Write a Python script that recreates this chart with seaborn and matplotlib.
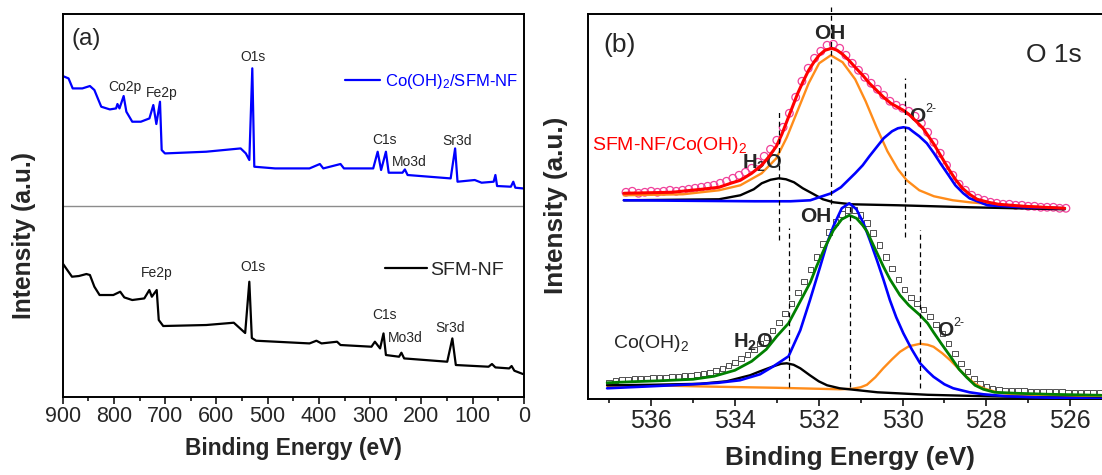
import numpy as np
import pandas as pd
import seaborn as sns
import matplotlib.pyplot as plt
from matplotlib.lines import Line2D
from matplotlib.ticker import MultipleLocator

# ---------------- survey spectra (panel a) ----------------
be_cooh = [900, 888.6, 880.5, 861.7, 846.9, 838.2, 831.5, 824.8, 808.0, 795.9, 793.2, 789.2,
           781.1, 775.8, 764.3, 747.5, 730.8, 723.2, 717.3, 710.2, 706.9, 700.5, 620.0, 552.8,
           542.7, 535.9, 530.1, 526.2, 485.6, 418.5, 398.3, 391.6, 358.0, 351.3, 294.2, 285.5,
           278.8, 269.4, 264.0, 237.1, 232.4, 227.1, 143.1, 134.4, 129.7, 96.1, 82.7, 59.2,
           55.8, 52.5, 25.6, 20.9, 16.9, 2.1]
int_cooh = [320.7, 318.3, 308.3, 308.3, 310.7, 306.7, 298.3, 290, 287.3, 288.3, 292.7, 288.3,
            300.7, 285, 275, 275, 278.3, 291.7, 272.7, 295, 246.7, 243.3, 245, 248.3,
            243.3, 236.7, 328.4, 230, 228.3, 228.3, 232.7, 228.3, 232.7, 228.3, 228.3, 245,
            226.7, 245, 224, 224, 227.3, 221.7, 218.3, 248.3, 215, 216.7, 214, 215,
            221.7, 210.7, 210, 215, 209, 208.3]

be_sfm = [900, 891.9, 881.9, 868.4, 853.7, 846.9, 838.2, 828.1, 801.3, 787.8, 779.8, 764.3,
          740.8, 731.0, 726.1, 716.6, 712.6, 703.9, 620.0, 566.2, 544.0, 535.9, 531.0, 522.6,
          418.5, 405.0, 395.0, 364.7, 358.0, 297.6, 290.9, 280.8, 274.1, 269.4, 243.8, 239.2,
          233.8, 149.8, 139.8, 133.0, 69.2, 62.5, 55.8, 28.9, 24.2, 18.8, 2.1]
int_sfm = [133.3, 127.3, 120, 120.7, 122.7, 121.7, 110, 101.7, 101.7, 105, 99.3, 96.7,
           98.3, 106.7, 100, 106.7, 76.7, 70.7, 71.7, 74, 63.7, 115, 58.7, 56,
           53.3, 56, 53.3, 55, 51.7, 50, 55, 48.3, 63.3, 41.7, 40, 44,
           38.3, 35, 58.3, 31.7, 30, 32.7, 29.3, 28.3, 30.7, 26, 22.7]

labels_cooh = ["Co2p", "Fe2p", "O1s", "C1s", "Mo3d", "Sr3d"]
labels_sfm = ["Fe2p", "O1s", "C1s", "Mo3d", "Sr3d"]

# ---------------- O 1s spectra (panel b) ----------------
# SFM-NF/Co(OH)2 : raw data
be_top_raw = [536.60, 536.45, 536.30, 536.15, 536.00, 535.85, 535.70, 535.55, 535.40, 535.25,
              535.10, 534.95, 534.80, 534.65, 534.50, 534.35, 534.20, 534.05, 533.90, 533.75,
              533.60, 533.45, 533.30, 533.15, 533.00, 532.85, 532.70, 532.55, 532.40, 532.25,
              532.10, 531.95, 531.80, 531.65, 531.50, 531.35, 531.20, 531.05, 530.90, 530.75,
              530.60, 530.45, 530.30, 530.15, 530.00, 529.85, 529.70, 529.55, 529.40, 529.25,
              529.10, 528.95, 528.80, 528.65, 528.50, 528.35, 528.20, 528.05, 527.90, 527.75,
              527.60, 527.45, 527.30, 527.15, 527.00, 526.85, 526.70, 526.55, 526.40, 526.25,
              526.10]
int_top_raw = [207, 208, 206, 207, 208, 207, 208, 209, 208, 209,
               210, 211, 212, 213, 214, 216, 218, 221, 224, 227,
               231, 237, 243, 250, 259, 272, 286, 302, 318, 331,
               341, 348, 354, 355, 351, 344, 336, 329, 322, 316,
               310, 304, 298, 294, 291, 288, 283, 276, 267, 257,
               246, 234, 224, 215, 209, 204, 201, 199, 197, 196,
               195, 195, 194, 194, 193, 193, 192, 192, 192, 191,
               191]

be_top_fit = [536.65, 535.50, 534.80, 534.38, 534.10, 533.87, 533.60, 533.36, 533.20, 533.01,
              532.88, 532.76, 532.63, 532.50, 532.37, 532.24, 532.10, 531.99, 531.85, 531.69,
              531.56, 531.43, 531.28, 531.13, 530.95, 530.79, 530.62, 530.45, 530.28, 530.11,
              529.98, 529.85, 529.70, 529.51, 529.38, 529.25, 529.08, 528.91, 528.74, 528.57,
              528.40, 528.22, 527.95, 527.71, 527.11, 526.13]
int_top_fit = [206, 207, 210, 212, 216, 219, 226, 234, 242, 253,
               265, 278, 292, 306, 318, 329, 338, 344, 349, 351,
               349, 345, 339, 332, 324, 316, 309, 302, 296, 292,
               289, 285, 279, 271, 263, 255, 243, 231, 220, 211,
               205, 200, 197, 195, 193, 191]

be_top_oh = [536.65, 535.24, 534.38, 533.87, 533.36, 533.01, 532.76, 532.50, 532.24, 531.99,
             531.71, 531.43, 531.13, 530.88, 530.62, 530.36, 530.11, 529.90, 529.60, 529.25,
             528.80, 528.40, 527.54, 526.13]
int_top_oh = [204, 205, 209, 214, 226, 241, 262, 289, 316, 336,
              344, 337, 320, 298, 272, 248, 230, 219, 209, 203,
              199, 197, 194, 191]

be_top_o2 = [536.65, 533.53, 532.67, 532.20, 531.99, 531.70, 531.47, 531.13, 530.95, 530.79,
             530.62, 530.45, 530.25, 530.11, 529.98, 529.85, 529.76, 529.60, 529.42, 529.25,
             529.08, 528.90, 528.74, 528.55, 528.40, 527.97, 527.11, 526.13]
int_top_o2 = [199, 198, 198, 199, 202, 206, 212, 226, 234, 243,
              252, 261, 268, 271, 272, 271, 268, 263, 256, 246,
              235, 224, 214, 206, 201, 194, 192, 191]

be_top_h2o = [536.65, 534.38, 533.87, 533.55, 533.36, 533.15, 532.95, 532.78, 532.59, 532.38,
              532.16, 531.90, 531.65, 531.22, 530.11, 528.40, 526.13]
int_top_h2o = [199, 200, 204, 210, 216, 219.5, 221, 220, 217, 211,
               206, 200, 197, 195, 194, 192, 190]

# Co(OH)2 : raw data
be_bot_raw = [537.00, 536.85, 536.70, 536.55, 536.40, 536.25, 536.10, 535.95, 535.80, 535.65,
              535.50, 535.35, 535.20, 535.05, 534.90, 534.75, 534.60, 534.45, 534.30, 534.15,
              534.00, 533.85, 533.70, 533.55, 533.40, 533.25, 533.10, 532.95, 532.80, 532.65,
              532.50, 532.35, 532.20, 532.05, 531.90, 531.75, 531.60, 531.45, 531.30, 531.15,
              531.00, 530.85, 530.70, 530.55, 530.40, 530.25, 530.10, 529.95, 529.80, 529.65,
              529.50, 529.35, 529.20, 529.05, 528.90, 528.75, 528.60, 528.45, 528.30, 528.15,
              528.00, 527.85, 527.70, 527.55, 527.40, 527.25, 527.10, 526.95, 526.80, 526.65,
              526.50, 526.35, 526.20, 526.05, 525.90, 525.75, 525.60, 525.45, 525.30]
int_bot_raw = [17, 19, 20, 20, 21, 21, 21, 22, 22, 22,
               23, 23, 24, 24, 25, 26, 27, 29, 31, 34,
               37, 41, 45, 50, 56, 62, 69, 77, 86, 96,
               107, 118, 130, 142, 155, 167, 177, 185, 189, 189,
               184, 176, 166, 154, 142, 131, 120, 110, 102, 96,
               90, 83, 75, 66, 56, 46, 36, 28, 21, 16,
               13, 11, 10, 9, 9, 8.5, 8.5, 8, 8, 8,
               7.5, 7.5, 7.5, 7, 7, 7, 7, 7, 7]

be_bot_fit = [537.05, 536.5, 535.8, 535.0, 534.5, 534.0, 533.6, 533.25, 533.0, 532.72,
              532.44, 532.2, 532.05, 531.85, 531.65, 531.45, 531.27, 531.1, 530.95, 530.85,
              530.65, 530.46, 530.3, 530.06, 529.85, 529.58, 529.4, 529.26, 529.08, 528.86,
              528.65, 528.47, 528.27, 528.07, 527.8, 527.27, 526.5, 525.25]
int_bot_fit = [16.5, 17.5, 18.5, 20, 23, 29, 38, 50, 63, 76,
               98, 117, 133, 152, 169, 180, 184, 181, 174, 168,
               150, 133, 120, 104, 94, 84, 76, 67, 56, 43,
               30, 22, 14, 10, 7, 6, 5, 4]

be_bot_oh = [537.05, 536.0, 535.0, 534.4, 533.88, 533.4, 533.08, 532.72, 532.44, 532.21,
             531.97, 531.8, 531.65, 531.45, 531.27, 531.1, 530.93, 530.77, 530.61, 530.45,
             530.3, 530.15, 529.98, 529.78, 529.58, 529.4, 529.26, 529.0, 528.79, 528.4,
             528.07, 527.5, 526.88, 525.25]
int_bot_oh = [11, 13, 15, 16.5, 19, 25, 33, 43, 69, 99,
              132, 156, 173, 191, 196, 190, 176, 158, 139, 119,
              99, 82, 66, 50, 36, 28, 22.5, 15, 11, 7,
              5, 3, 2, 0.5]

be_bot_h2o = [537.05, 536.0, 534.83, 534.2, 533.64, 533.4, 533.08, 532.9, 532.76, 532.6,
              532.44, 532.21, 532.0, 531.8, 531.5, 531.27, 530.6, 529.4, 528.0, 525.25]
int_bot_h2o = [14, 14.5, 15.5, 18, 24, 28, 33, 35.5, 36, 34.5,
               31, 24, 18, 14, 11, 10, 7, 4.5, 3, 1]

be_bot_o2 = [537.05, 535.5, 534.51, 533.0, 531.49, 531.2, 531.0, 530.85, 530.65, 530.46,
             530.25, 530.06, 529.85, 529.58, 529.4, 529.26, 529.05, 528.86, 528.65, 528.47,
             528.27, 528.07, 527.7, 527.27, 526.5, 525.25]
int_bot_o2 = [13.5, 13.5, 12.6, 11.5, 10, 10.5, 12, 14.5, 22, 31,
              40, 47.5, 53, 55.5, 54.5, 52.5, 46, 39, 30, 22.5,
              15.5, 11, 6.5, 4.5, 3, 2]

# component centres (eV) for the dashed guide lines
centers_top = [532.95, 531.71, 529.95]
centers_bot = [532.72, 531.25, 529.58]

# ---------------- style ----------------
sns.set_style("ticks")
plt.rcParams['font.family'] = ['Liberation Sans', 'DejaVu Sans']
plt.rcParams['mathtext.fontset'] = 'custom'
plt.rcParams['mathtext.rm'] = 'Liberation Sans'
plt.rcParams['mathtext.it'] = 'Liberation Sans:italic'
plt.rcParams['mathtext.bf'] = 'Liberation Sans:bold'
plt.rcParams['mathtext.default'] = 'regular'

fig = plt.figure(figsize=(11.02, 4.75), dpi=100)
ax1 = fig.add_axes([0.0569, 0.1648, 0.4186, 0.8057])
ax2 = fig.add_axes([0.5338, 0.1594, 0.4753, 0.8112])

# ---------------- panel (a) ----------------
sns.lineplot(x=be_cooh, y=int_cooh, ax=ax1, color='#0000FF', lw=1.6, sort=False, estimator=None)
sns.lineplot(x=be_sfm, y=int_sfm, ax=ax1, color='black', lw=1.6, sort=False, estimator=None)
ax1.axhline(191, color='#8c8c8c', lw=1)

ax1.set_xlim(900, 0)
ax1.set_ylim(0, 382.7)
ax1.set_yticks([])
ax1.xaxis.set_major_locator(MultipleLocator(100))
ax1.xaxis.set_minor_locator(MultipleLocator(50))
ax1.tick_params(axis='x', which='major', direction='out', length=5, width=1.3,
                labelsize=15.5, pad=2, bottom=True)
ax1.tick_params(axis='x', which='minor', direction='out', length=3, width=1.3, bottom=True)
for s in ax1.spines.values():
    s.set_linewidth(1.4)
    s.set_color('black')

ax1.set_xlabel("Binding Energy (eV)", fontsize=16.4, fontweight='bold', va='center')
ax1.xaxis.set_label_coords(0.5, -0.134)
ax1.set_ylabel("Intensity (a.u.)", fontsize=17.7, fontweight='bold', va='center')
ax1.yaxis.set_label_coords(-0.084, 0.4225)

ax1.text(855, 358, "(a)", fontsize=17.5, ha='center', va='center')
pos_cooh = [(777.8, 310), (707.3, 304), (527.9, 339.3), (272.7, 256.7), (223.7, 235), (129.7, 256)]
for lab, (x, y) in zip(labels_cooh, pos_cooh):
    ax1.text(x, y, lab, fontsize=10, ha='center', va='center')
pos_sfm = [(717.3, 124), (527.9, 129.3), (272.1, 81.7), (231.8, 58.3), (144.5, 69)]
for lab, (x, y) in zip(labels_sfm, pos_sfm):
    ax1.text(x, y, lab, fontsize=10, ha='center', va='center')

leg1 = ax1.legend(handles=[Line2D([], [], color='#0000FF', lw=1.6)], labels=['Co(OH)$_2$/SFM-NF'],
                  loc='center left', bbox_to_anchor=(0.612, 0.824), frameon=False, fontsize=12,
                  handlelength=2.1, handletextpad=0.3, borderpad=0, borderaxespad=0,
                  labelcolor='#0000FF')
ax1.add_artist(leg1)
ax1.legend(handles=[Line2D([], [], color='black', lw=1.6)], labels=['SFM-NF'],
           loc='center left', bbox_to_anchor=(0.699, 0.331), frameon=False, fontsize=14,
           handlelength=2.15, handletextpad=0.17, borderpad=0, borderaxespad=0)

# ---------------- panel (b) ----------------
orange = '#FF8C1A'
sns.scatterplot(x=be_top_raw, y=int_top_raw, ax=ax2, marker='o', s=30, facecolor='none',
                edgecolor='#F0409A', linewidth=0.9, zorder=2)
sns.lineplot(x=be_top_h2o, y=int_top_h2o, ax=ax2, color='black', lw=1.7, estimator=None, zorder=3)
sns.lineplot(x=be_top_oh, y=int_top_oh, ax=ax2, color=orange, lw=1.7, estimator=None, zorder=3)
sns.lineplot(x=be_top_o2, y=int_top_o2, ax=ax2, color='#0000FF', lw=1.9, estimator=None, zorder=3)
sns.lineplot(x=be_top_fit, y=int_top_fit, ax=ax2, color='#FF0000', lw=2.2, estimator=None, zorder=4)

sns.scatterplot(x=be_bot_raw, y=int_bot_raw, ax=ax2, marker='s', s=16, facecolor='none',
                edgecolor='#505050', linewidth=0.7, zorder=2)
sns.lineplot(x=be_bot_o2, y=int_bot_o2, ax=ax2, color=orange, lw=1.7, estimator=None, zorder=3)
sns.lineplot(x=be_bot_h2o, y=int_bot_h2o, ax=ax2, color='black', lw=1.7, estimator=None, zorder=3)
sns.lineplot(x=be_bot_oh, y=int_bot_oh, ax=ax2, color='#0000FF', lw=1.9, estimator=None, zorder=3)
sns.lineplot(x=be_bot_fit, y=int_bot_fit, ax=ax2, color='#008000', lw=2.0, estimator=None, zorder=4)

dash = dict(color='black', lw=0.9, ls=(0, (4, 3)), zorder=5)
for c, (y0, y1) in zip(centers_top, [(159, 289), (195, 392), (162, 321)]):
    ax2.plot([c, c], [y0, y1], clip_on=False, **dash)
for c, (y0, y1) in zip(centers_bot, [(12, 171), (12, 192), (11, 169)]):
    ax2.plot([c, c], [y0, y1], **dash)

ax2.set_xlim(537.5, 525.0)
ax2.set_ylim(0, 385.3)
ax2.set_yticks([])
ax2.xaxis.set_major_locator(MultipleLocator(2))
ax2.xaxis.set_minor_locator(MultipleLocator(1))
ax2.tick_params(axis='x', which='major', direction='out', length=5, width=1.3,
                labelsize=18, pad=2, bottom=True)
ax2.tick_params(axis='x', which='minor', direction='out', length=3, width=1.3, bottom=True)
for s in ax2.spines.values():
    s.set_linewidth(1.4)
    s.set_color('black')

ax2.set_xlabel("Binding Energy (eV)", fontsize=18.8, fontweight='bold', va='center')
ax2.xaxis.set_label_coords(0.5, -0.153)
ax2.set_ylabel("Intensity (a.u.)", fontsize=18.8, fontweight='bold', va='center')
ax2.yaxis.set_label_coords(-0.0617, 0.504)


def o2_label(ax, x, y):
    # bold O with a small "2-" superscript (hyphen, as in the figure)
    ax.text(x, y, "O", fontsize=15, fontweight='bold', ha='left', va='center')
    ax.annotate("2-", xy=(x, y), xytext=(11.8, 5), textcoords='offset points',
                fontsize=9, ha='left', va='center')


ax2.text(536.76, 354, "(b)", fontsize=19, ha='center', va='center')
ax2.text(526.38, 344, "O 1s", fontsize=19, ha='center', va='center')
ax2.text(531.73, 365.7, "OH", fontsize=15, fontweight='bold', ha='center', va='center')
o2_label(ax2, 529.85, 283)
ax2.text(533.83, 236, r"$\mathbf{H_2O}$", fontsize=14.5, ha='left', va='center')
ax2.text(537.42, 254, "SFM-NF/Co(OH)$_2$", fontsize=14, color='#FF0000', ha='left', va='center')
ax2.text(532.07, 182.3, "OH", fontsize=15, fontweight='bold', ha='center', va='center')
ax2.text(536.91, 55.7, "Co(OH)$_2$", fontsize=14, ha='left', va='center')
ax2.text(534.04, 57.3, r"$\mathbf{H_2O}$", fontsize=14.5, ha='left', va='center')
o2_label(ax2, 529.17, 69)

fig.savefig("out.png", dpi=100)
